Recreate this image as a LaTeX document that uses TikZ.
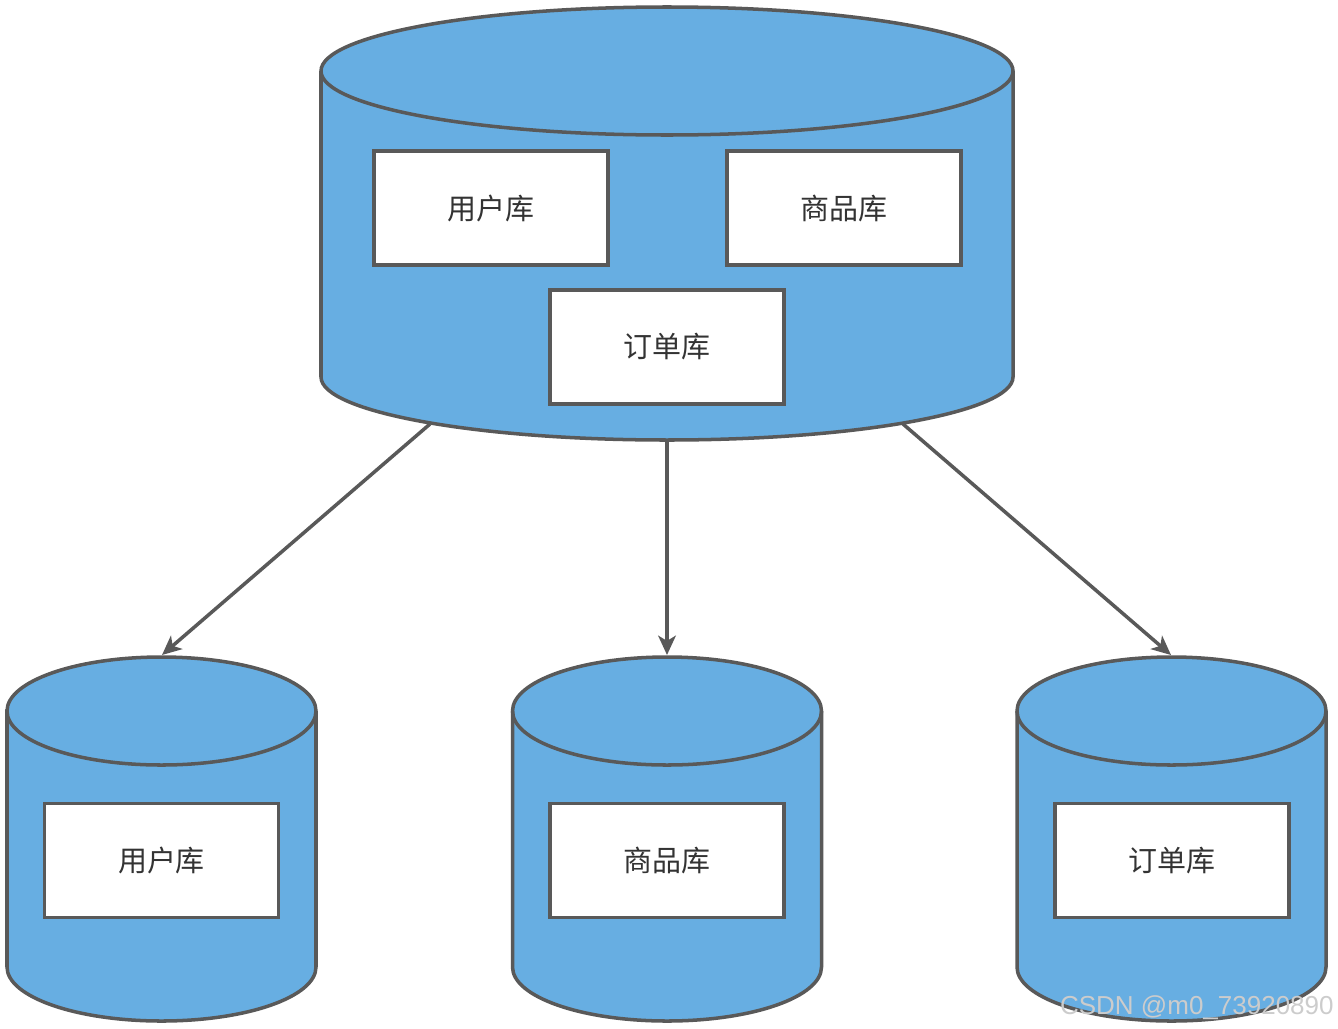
\documentclass[tikz,border=0pt]{standalone}
\usepackage{fontspec}
\setmainfont{Liberation Sans}
\newfontfamily\cjk{Noto Sans CJK SC}
\usetikzlibrary{arrows.meta,positioning}
\definecolor{dbblue}{RGB}{103,174,226}
\definecolor{dbline}{RGB}{89,89,89}
\definecolor{dbtext}{RGB}{51,51,51}
\tikzset{
  cyl/.style={fill=dbblue, draw=dbline, line width=2pt},
  tablebox/.style={draw=dbline, fill=white, line width=2pt, minimum width=4.68cm,
    minimum height=2.28cm, inner sep=0pt, text=dbtext, font=\cjk\fontsize{16.5}{19}\selectfont},
  link/.style={draw=dbline, line width=2pt, -{Stealth[length=11pt,width=10pt,inset=3pt]}}
}
\begin{document}
\begin{tikzpicture}[x=0.02cm,y=-0.02cm]
\useasboundingbox (0,0) rectangle (1338,1028);
% main database
\draw[cyl] (321,71) -- (321,377) arc[start angle=180,end angle=0,x radius=346,y radius=63]
  -- (1013,71) arc[start angle=0,end angle=-180,x radius=346,y radius=64] -- cycle;
\draw[cyl, fill=none] (321,71) arc[start angle=180,end angle=0,x radius=346,y radius=64];
% split databases
\foreach \cx in {161.5,667,1171.5} {
  \draw[cyl] ({\cx-154.5},711) -- ({\cx-154.5},967) arc[start angle=180,end angle=0,x radius=154.5,y radius=54]
    -- ({\cx+154.5},711) arc[start angle=0,end angle=-180,x radius=154.5,y radius=54] -- cycle;
  \draw[cyl, fill=none] ({\cx-154.5},711) arc[start angle=180,end angle=0,x radius=154.5,y radius=54];
}
\node[tablebox] (bigUser) at (491,208) {用户库};
\node[tablebox] (bigGoods) at (844,208) {商品库};
\node[tablebox] (bigOrder) at (667,347) {订单库};
\node[tablebox] (user) at (161.5,860.5) {用户库};
\node[tablebox] (goods) at (667,860.5) {商品库};
\node[tablebox] (order) at (1172,860.5) {订单库};
% arrow ends
\coordinate (outL) at (430,424);
\coordinate (outM) at (667,440);
\coordinate (outR) at (903,424);
\coordinate (userTop) at (162,655);
\coordinate (goodsTop) at (667,655);
\coordinate (orderTop) at (1171,655);
\draw[link] (outL) -- (userTop);
\draw[link] (outM) -- (goodsTop);
\draw[link] (outR) -- (orderTop);
\node[anchor=base east, text=gray!40, font=\fontsize{14.8}{16}\selectfont, inner sep=0pt] (mark) at (1334,1014) {CSDN @m0\_73920890};
\end{tikzpicture}
\end{document}
